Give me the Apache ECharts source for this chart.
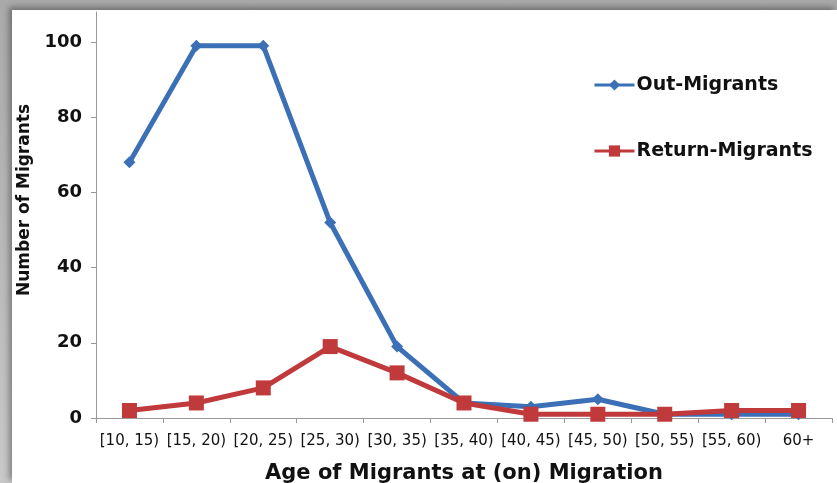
<!DOCTYPE html>
<html><head><meta charset="utf-8">
<script src="https://cdn.jsdelivr.net/npm/echarts@6/dist/echarts.min.js"></script>
<style>
html,body{margin:0;padding:0;background:#fff;width:837px;height:483px;overflow:hidden;}
#frame{position:absolute;left:0;top:0;width:837px;height:483px;background:linear-gradient(#a9a9a9,#c8c8c8);}
#inner{position:absolute;left:12px;top:10px;width:825px;height:473px;background:#fff;box-shadow:-3px -3px 6px rgba(0,0,0,0.35);}
#c{position:absolute;left:0;top:0;width:837px;height:483px;}
</style></head>
<body>
<div id="frame"><div id="inner"></div></div>
<div id="c"></div>
<script>
const categories = ["[10, 15)","[15, 20)","[20, 25)","[25, 30)","[30, 35)","[35, 40)","[40, 45)","[45, 50)","[50, 55)","[55, 60)","60+"];
const outMigrants = [68, 99, 99, 52, 19, 4, 3, 5, 1, 1, 1];
const returnMigrants = [2, 4, 8, 19, 12, 4, 1, 1, 1, 2, 2];
const yTicks = [0, 20, 40, 60, 80, 100];

const chart = echarts.init(document.getElementById('c'), null, {renderer:'canvas'});
const font = '"DejaVu Sans", sans-serif';
chart.setOption({
  animation:false,
  backgroundColor:'transparent',
  grid:{left:96, right:5, top:12, bottom:65, containLabel:false, outerBoundsMode:'none'},
  legend:{
    orient:'vertical', left:588, top:69, itemGap:44, itemWidth:40, itemHeight:14,
    lineStyle:{width:3},
    textStyle:{fontFamily:font, fontWeight:'bold', fontSize:19, lineHeight:22, color:'#111', padding:[0,0,0,-3]},
    data:['Out-Migrants','Return-Migrants']
  },
  xAxis:{
    type:'category', data:categories, boundaryGap:true,
    name:'Age of Migrants at (on) Migration', nameLocation:'middle', nameGap:45,
    nameTextStyle:{fontFamily:font, fontWeight:'bold', fontSize:21, color:'#111'},
    axisLine:{lineStyle:{color:'#999', width:1}},
    axisTick:{show:true, length:5, lineStyle:{color:'#999'}},
    axisLabel:{fontFamily:font, fontSize:15, color:'#111', margin:16, interval:0}
  },
  yAxis:{
    type:'value', min:0, max:108, interval:20,
    name:'Number of Migrants', nameLocation:'middle', nameGap:63, nameRotate:90,
    nameTextStyle:{fontFamily:font, fontWeight:'bold', fontSize:17, color:'#111', padding:[0,0,0,30]},
    axisLine:{show:true, lineStyle:{color:'#999', width:1}},
    axisTick:{show:true, length:5, lineStyle:{color:'#999'}},
    splitLine:{show:false},
    axisLabel:{fontFamily:font, fontWeight:'bold', fontSize:18, color:'#111', margin:14, showMaxLabel:false,
      formatter:v => yTicks.includes(v) ? String(v) : ''}
  },
  series:[
    {name:'Out-Migrants', type:'line', data:outMigrants, symbol:'diamond', symbolSize:12,
     lineStyle:{color:'#3b6fb6', width:5}, itemStyle:{color:'#3b6fb6'}, z:2},
    {name:'Return-Migrants', type:'line', data:returnMigrants, symbol:'rect', symbolSize:15,
     lineStyle:{color:'#c0393b', width:5}, itemStyle:{color:'#c0393b'}, z:3}
  ]
});
</script>
</body></html>
